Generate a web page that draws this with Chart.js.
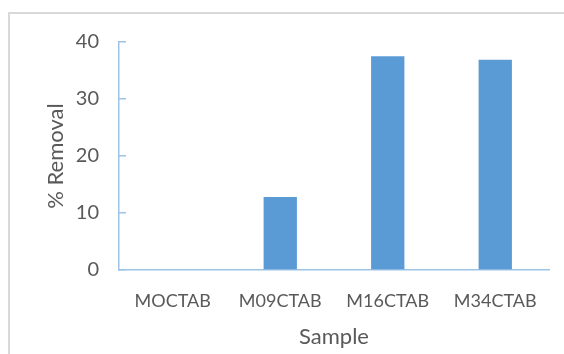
<!DOCTYPE html>
<html>
<head>
<meta charset="utf-8">
<script src="https://cdn.jsdelivr.net/npm/chart.js@4/dist/chart.umd.min.js"></script>
<style>
  body { margin: 0; background: #fff; }
  #wrap { position: relative; width: 564px; height: 354px; overflow: hidden; }
  #frame { position: absolute; left: 8px; top: 12px; width: 600px; height: 400px; border: 2px solid #d9d9d9; }
  canvas { position: absolute; left: 0; top: 0; }
</style>
</head>
<body>
<div id="wrap">
  <div id="frame"></div>
  <canvas id="bar-chart" width="564" height="354"></canvas>
</div>
<script>
// data
const samples = ['MOCTAB', 'M09CTAB', 'M16CTAB', 'M34CTAB'];
const removal = [0, 12.8, 37.5, 36.9];
const yTicks = [0, 10, 20, 30, 40];

const grey = '#595959';
const axisBlue = '#9dc3e6';
const font = 'Lato, Calibri, "Open Sans", sans-serif';

const ctx = document.getElementById('bar-chart').getContext('2d');
new Chart(ctx, {
    type: 'bar',
    data: {
        labels: samples,
        datasets: [{
            label: '% Removal',
            data: removal,
            backgroundColor: '#5b9bd5',
            borderWidth: 0,
            barPercentage: 0.31,
            categoryPercentage: 1
        }]
    },
    options: {
        responsive: false,
        animation: false,
        layout: { padding: { left: 43, right: 15, top: 42, bottom: 0 } },
        plugins: { legend: { display: false }, tooltip: { enabled: false } },
        scales: {
            x: {
                grid: { display: false },
                border: { display: true, color: axisBlue, width: 1.5 },
                ticks: { color: grey, font: { family: font, size: 18 }, padding: 12 },
                title: { display: true, text: 'Sample', color: grey, font: { family: font, size: 22 }, padding: { top: 6 } },
                afterFit: s => { s.height = 84; }
            },
            y: {
                min: 0,
                max: 40,
                afterBuildTicks: s => { s.ticks = yTicks.map(v => ({ value: v })); },
                grid: { drawOnChartArea: false, drawTicks: true, tickLength: -7, color: axisBlue, lineWidth: 1.5 },
                border: { display: true, color: axisBlue, width: 1.5 },
                ticks: { color: grey, font: { family: font, size: 20 }, padding: 27 },
                title: { display: true, text: '% Removal', color: grey, font: { family: font, size: 22 }, padding: 0 },
                afterFit: s => { s.width = 76; }
            }
        }
    }
});
</script>
</body>
</html>
